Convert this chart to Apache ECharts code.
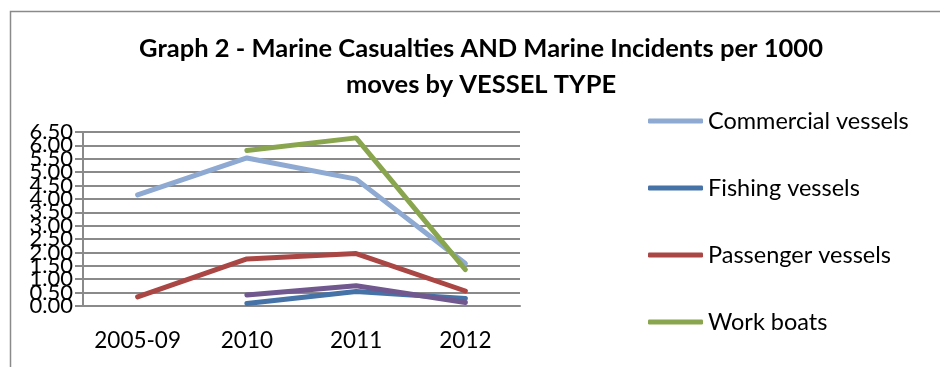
<!DOCTYPE html>
<html>
<head>
<meta charset="utf-8">
<script src="https://cdn.jsdelivr.net/npm/echarts@6/dist/echarts.min.js"></script>
<style>
  html, body { margin: 0; padding: 0; background: #fff; }
  #main { width: 940px; height: 367px; }
</style>
</head>
<body>
<div id="main"></div>
<script>
// categories and values
var years = ['2005-09', '2010', '2011', '2012'];
var commercial = [4.15, 5.53, 4.74, 1.59];
var fishing = [null, 0.09, 0.54, 0.28];
var passenger = [0.34, 1.76, 1.96, 0.56];
var workBoats = [null, 5.81, 6.28, 1.36];
// fifth line, its legend entry is not visible in the picture
var otherVessels = [null, 0.41, 0.76, 0.13];

var font = 'Lato, "Open Sans", sans-serif';

var myChart = echarts.init(document.getElementById('main'));

function line(name, data, color) {
    return {
        name: name,
        type: 'line',
        data: data,
        showSymbol: false,
        symbol: 'none',
        lineStyle: { width: 5, color: color, cap: 'round' },
        itemStyle: { color: color },
        emphasis: { disabled: true },
        animation: false
    };
}

// the tick labels overlap in the original, so they are split over two
// stacked axes (whole numbers / halves) to stop echarts hiding some of them
function yLabels(showHalves) {
    return {
        interval: 0,
        showMinLabel: true,
        showMaxLabel: true,
        hideOverlap: false,
        fontFamily: font,
        fontSize: 22,
        color: '#000',
        margin: 10,
        formatter: function (v) {
            var half = Math.round(v * 2) % 2 === 1;
            return half === showHalves ? v.toFixed(2) : '';
        }
    };
}

var option = {
    backgroundColor: '#fff',
    textStyle: { fontFamily: font },
    title: {
        text: 'Graph 2 - Marine Casualties AND Marine Incidents per 1000\nmoves by VESSEL TYPE',
        left: 481,
        top: 31,
        textAlign: 'center',
        padding: 0,
        textStyle: {
            fontFamily: font,
            fontSize: 25.5,
            fontWeight: 'bold',
            color: '#000',
            lineHeight: 36
        }
    },
    graphic: [{
        // chart frame, only top and left edges are in view
        type: 'rect',
        shape: { x: 10.5, y: 11.5, width: 1000, height: 500 },
        style: { fill: 'none', stroke: '#8a8a8a', lineWidth: 1.5 },
        silent: true
    }],
    legend: {
        orient: 'vertical',
        left: 648,
        top: 107,
        padding: 0,
        data: ['Commercial vessels', 'Fishing vessels', 'Passenger vessels', 'Work boats'],
        icon: 'roundRect',
        itemWidth: 55,
        itemHeight: 5,
        itemGap: 39,
        textStyle: { fontFamily: font, fontSize: 23.5, color: '#000', lineHeight: 28 }
    },
    grid: {
        left: 83,
        right: 420,
        top: 132,
        bottom: 61,
        containLabel: false
    },
    xAxis: {
        type: 'category',
        data: years,
        boundaryGap: true,
        axisLine: { lineStyle: { color: '#8a8a8a', width: 2 } },
        axisTick: { length: 8, lineStyle: { color: '#8a8a8a', width: 2 } },
        axisLabel: { interval: 0, fontFamily: font, fontSize: 22.5, color: '#000', margin: 23 }
    },
    yAxis: [{
        type: 'value',
        position: 'left',
        min: 0,
        max: 6.5,
        interval: 0.5,
        axisLine: { show: true, lineStyle: { color: '#8a8a8a', width: 2 } },
        axisTick: { show: true, length: 8, lineStyle: { color: '#8a8a8a', width: 2 } },
        splitLine: { lineStyle: { color: '#8a8a8a', width: 2 } },
        axisLabel: yLabels(false)
    }, {
        type: 'value',
        position: 'left',
        offset: 0,
        min: 0,
        max: 6.5,
        interval: 0.5,
        axisLine: { show: false },
        axisTick: { show: false },
        splitLine: { show: false },
        axisLabel: yLabels(true)
    }],
    series: [
        line('Commercial vessels', commercial, '#8EA9D2'),
        line('Fishing vessels', fishing, '#4572A7'),
        line('Passenger vessels', passenger, '#AA4643'),
        line('Work boats', workBoats, '#89A54E'),
        line('Other vessels', otherVessels, '#71588F')
    ]
};
myChart.setOption(option);
</script>
</body>
</html>
